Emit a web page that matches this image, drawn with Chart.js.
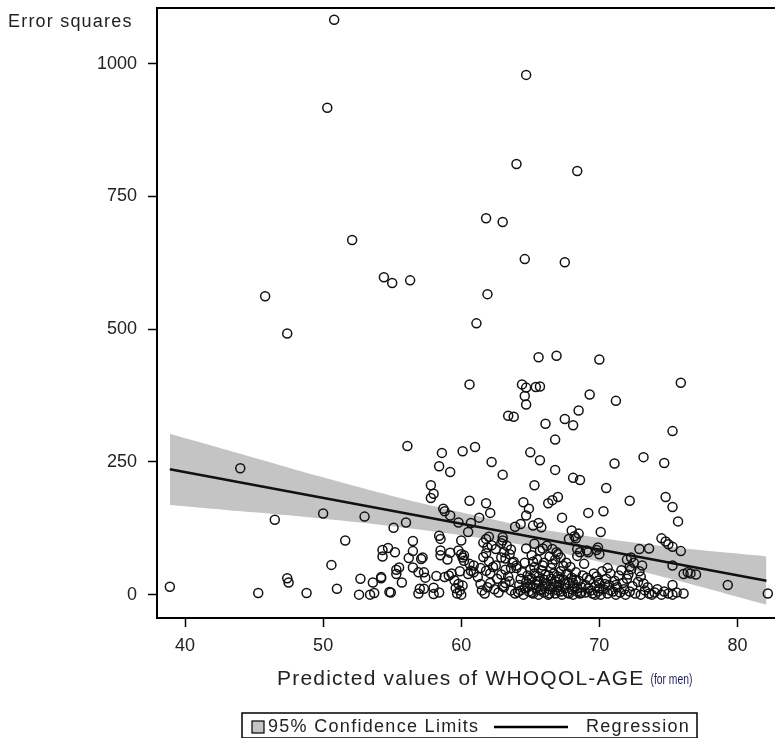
<!DOCTYPE html>
<html>
<head>
<meta charset="utf-8">
<script src="https://cdn.jsdelivr.net/npm/chart.js@4.4.1/dist/chart.umd.min.js"></script>
<style>
html, body { margin: 0; padding: 0; background: #fff; }
#wrap { width: 775px; height: 738px; position: relative; }
</style>
</head>
<body>
<div id="wrap"><canvas id="chart" width="775" height="738"></canvas></div>
<script>
// tick values
const xTicks = [40, 50, 60, 70, 80];
const yTicks = [0, 250, 500, 750, 1000];

const predX = [
    50.8, 64.7, 50.3, 64.0, 68.4, 61.8, 63.0, 52.1, 64.6, 67.5, 54.4, 55.0, 56.3, 45.8, 61.9, 47.4, 61.1,
    65.6, 66.9, 70.0, 60.6, 64.4, 64.7, 65.4, 65.7, 64.6, 64.7, 69.3, 71.2, 75.9, 63.4, 63.8, 66.1, 67.5,
    68.1, 68.5, 66.8, 75.3, 56.1, 58.6, 60.1, 61.0, 65.0, 65.7, 62.2, 58.4, 59.2, 63.0, 66.8, 71.1, 73.2,
    74.7, 68.1, 68.6, 65.3, 70.5, 72.2, 74.8, 75.3, 75.7, 44.0, 57.8, 58.0, 57.8, 60.6, 61.8, 62.1, 58.7,
    58.8, 59.2, 59.8, 61.3, 60.7, 60.5, 46.5, 50.0, 53.0, 55.1, 56.0, 51.6, 56.5, 64.5, 64.9, 64.7, 66.3,
    66.6, 67.0, 67.3, 69.2, 70.3, 70.1, 63.9, 64.3, 65.2, 65.6, 65.8, 68.0, 68.2, 68.5, 68.3, 74.5, 74.8,
    75.0, 75.3, 75.9, 72.9, 73.6, 63.0, 62.9, 61.8, 62.0, 58.4, 58.5, 60.0,
    54.3, 54.7, 55.2, 54.3, 56.5, 56.2, 57.1, 57.2, 58.5, 58.5, 59.2, 59.0, 59.8, 60.0, 60.1, 60.2, 60.2,
    60.6, 60.9, 61.6, 61.9, 62.2, 61.8, 62.5, 62.9, 62.0, 62.3, 61.6, 63.1, 63.5, 63.0, 63.3, 63.6, 63.2,
    63.8, 64.0, 64.7, 65.1, 65.3, 65.7, 65.9, 66.2, 66.6, 66.9, 66.4, 65.5, 65.2, 67.0, 66.8, 67.2, 67.8,
    68.4, 68.4, 68.6, 69.1, 69.2, 69.9, 70.0, 69.8, 72.3, 72.0, 72.5, 73.1, 72.2, 75.3, 76.1, 76.6, 77.0,
    76.4, 79.3, 82.2, 75.3, 76.1, 50.6, 47.4, 47.5, 55.3, 55.3, 55.5, 52.7, 53.6, 54.2, 54.2, 55.7, 56.5,
    56.9, 57.3, 57.4, 57.0, 57.3, 56.9, 58.0, 58.4, 58.0, 58.2, 58.8, 59.1, 38.9, 45.3, 48.8, 51.0, 52.6,
    53.4, 53.7, 54.8, 54.9, 59.5, 59.6, 59.7, 59.8, 59.9, 60.0, 60.1, 59.3, 59.9, 60.5, 60.7, 60.9, 61.2,
    61.4, 61.5, 61.7, 61.9, 61.4, 61.8, 62.1, 62.5, 62.1, 62.4, 62.7, 63.0, 63.2, 62.6, 62.9, 63.2, 63.1,
    63.4, 63.6, 63.5, 63.6, 63.7, 64.0, 63.9,
    64.1, 64.2, 64.3, 64.4, 64.5, 64.6, 64.7, 64.8, 64.9, 65.0, 65.0, 65.1, 65.2, 65.3, 65.4, 65.5, 65.6,
    65.6, 65.7, 65.8, 65.9, 66.0, 66.0, 66.1, 66.2, 66.3, 66.4, 66.5, 66.5, 66.6, 66.7, 66.8, 66.9, 67.0,
    67.0, 67.1, 67.2, 67.3, 67.4, 67.5, 67.6, 67.7, 67.8, 67.9, 68.0, 68.0, 68.1, 68.2, 68.3, 68.4, 68.5,
    68.6, 68.7, 68.8, 66.6, 67.6, 65.9, 64.6,
    69.0, 69.2, 69.3, 69.5, 69.6, 69.7, 69.8, 69.9, 70.0, 70.1, 70.2, 70.3, 70.5, 70.6, 70.7, 70.8, 71.0,
    71.1, 71.2, 71.3, 71.4, 71.5, 71.6, 71.7, 71.8, 71.9, 72.0, 72.1, 72.2, 72.4, 72.6, 72.8, 72.9, 73.0,
    73.2, 73.3, 73.5, 73.6, 73.8, 74.0, 74.2, 74.5, 74.7, 75.0, 75.3, 75.6, 72.3, 73.0,
    64.3, 64.8, 65.1, 65.4, 65.8, 66.1, 66.4, 66.7, 67.0, 67.2, 67.5, 67.8, 68.1, 68.4, 68.7, 69.0, 69.4,
    69.7, 70.0, 70.4, 70.8, 71.2, 64.9, 65.6, 66.3, 67.1, 67.7, 68.3, 69.1, 69.9, 65.3, 66.0, 67.4, 68.9,
    70.6
];
const errSq = [
    1083, 979, 917, 811, 798, 709, 702, 668, 632, 626, 598, 587, 592, 562, 566, 492, 511,
    447, 450, 443, 396, 396, 390, 391, 392, 374, 358, 377, 365, 399, 337, 335, 322, 331,
    319, 347, 292, 308, 280, 267, 270, 278, 268, 253, 250, 242, 231, 226, 235, 247, 259,
    248, 220, 216, 206, 201, 177, 184, 165, 138, 238, 206, 190, 182, 177, 172, 154, 162,
    157, 149, 136, 145, 135, 118, 141, 153, 147, 126, 136, 102, 101, 174, 162, 149, 172,
    178, 184, 145, 154, 157, 118, 128, 133, 130, 135, 127, 121, 110, 115, 106, 106, 100,
    95, 90, 82, 86, 87, 108, 97, 105, 109, 111, 105, 102,
    84, 88, 80, 72, 82, 69, 67, 70, 83, 74, 79, 66, 83, 76, 70, 74, 64,
    58, 55, 98, 89, 93, 78, 86, 70, 63, 52, 71, 80, 76, 102, 92, 85, 68,
    62, 55, 87, 74, 96, 83, 87, 92, 86, 80, 72, 66, 62, 76, 66, 70, 105,
    86, 73, 80, 83, 80, 89, 76, 84, 70, 66, 60, 55, 52, 55, 39, 40, 38,
    42, 18, 2, 18, 2, 56, 31, 23, 47, 39, 51, 30, 23, 31, 33, 23, 51,
    42, 42, 32, 11, 11, 2, 1, 4, 13, 35, 33, 36, 15, 3, 3, 11, 0,
    0, 3, 5, 4, 27, 12, 2, 20, 8, 0, 17, 40, 44, 39, 45, 42, 33,
    20, 8, 2, 14, 50, 45, 40, 55, 22, 10, 4, 16, 22, 30, 38, 47, 14,
    34, 50, 25, 8, 60, 50, 2,
    5, 18, 30, 42, 0, 12, 24, 36, 6, 48, 18, 30, 2, 40, 12, 24, 0,
    34, 8, 46, 16, 28, 4, 38, 20, 0, 10, 30, 50, 14, 40, 2, 24, 8,
    34, 18, 44, 0, 28, 12, 38, 4, 22, 52, 10, 32, 0, 16, 42, 6, 26,
    2, 14, 36, 58, 60, 55, 60,
    4, 12, 28, 2, 40, 16, 34, 6, 22, 0, 44, 10, 30, 2, 18, 40, 6,
    26, 0, 14, 36, 4, 46, 22, 10, 0, 30, 38, 6, 16, 2, 24, 44, 0,
    21, 8, 14, 2, 0, 4, 10, 0, 6, 2, 0, 4, 48, 34,
    8, 14, 4, 20, 10, 16, 2, 20, 14, 6, 20, 2, 22, 12, 4, 18, 8,
    0, 12, 20, 8, 18, 28, 26, 36, 30, 40, 28, 32, 26, 52, 60, 54, 58,
    50
];

// fitted regression line (two ends)
const fitX = [38.9, 82.1];
const fitY = [236, 26];

// 95% confidence band, read at a few x positions
const bandX = [38.9, 45, 50, 55, 60, 65, 70, 75, 82.1];
const bandUpper = [303, 258, 221, 186, 155, 127, 107, 90, 72];
const bandLower = [169, 155, 143, 129, 112, 91, 62, 31, -19];

const FONT = '"Liberation Sans", Arial, sans-serif';
const pts = (xs, ys) => xs.map((x, i) => ({ x: x, y: ys[i] }));

const extras = {
    id: 'extras',
    afterDraw(chart) {
        const ctx = chart.ctx;
        const a = chart.chartArea;
        ctx.save();
        // top frame line
        ctx.strokeStyle = '#000';
        ctx.lineWidth = 2;
        ctx.beginPath();
        ctx.moveTo(a.left - 1, a.top);
        ctx.lineTo(a.right, a.top);
        ctx.stroke();

        ctx.fillStyle = '#222';
        ctx.textBaseline = 'middle';
        ctx.textAlign = 'left';
        ctx.letterSpacing = '1.2px';
        ctx.font = '18px ' + FONT;
        ctx.fillText('Error squares', 8, 22);

        // x axis title
        ctx.font = '21px ' + FONT;
        const main = 'Predicted values of WHOQOL-AGE';
        ctx.fillText(main, 277, 679);
        const w = ctx.measureText(main).width;
        // the sub-label is set narrow in the original
        ctx.letterSpacing = '0px';
        ctx.font = '14px ' + FONT;
        ctx.fillStyle = '#1c1c5a';
        ctx.save();
        ctx.translate(277 + w + 6, 680);
        ctx.scale(0.74, 1);
        ctx.fillText('(for men)', 0, 0);
        ctx.restore();

        // legend
        ctx.strokeStyle = '#000';
        ctx.lineWidth = 1.5;
        ctx.strokeRect(242, 713, 455, 25);
        ctx.fillStyle = '#c4c4c4';
        ctx.fillRect(252, 721, 12, 12);
        ctx.lineWidth = 1.2;
        ctx.strokeRect(252, 721, 12, 12);
        ctx.fillStyle = '#222';
        ctx.letterSpacing = '1.3px';
        ctx.font = '18px ' + FONT;
        ctx.fillText('95% Confidence Limits', 268, 727);
        ctx.lineWidth = 2.5;
        ctx.beginPath();
        ctx.moveTo(494, 727);
        ctx.lineTo(568, 727);
        ctx.stroke();
        ctx.fillText('Regression', 586, 727);
        ctx.restore();
    }
};

new Chart(document.getElementById('chart'), {
    type: 'scatter',
    data: {
        datasets: [
            {
                type: 'line',
                label: '95% upper',
                data: pts(bandX, bandUpper),
                borderWidth: 0,
                pointRadius: 0,
                backgroundColor: '#c4c4c4',
                fill: '+1',
                tension: 0.4,
                order: 4,
            },
            {
                type: 'line',
                label: '95% lower',
                data: pts(bandX, bandLower),
                borderWidth: 0,
                pointRadius: 0,
                fill: false,
                tension: 0.4,
                order: 4,
            },
            {
                label: 'Error squares',
                data: pts(predX, errSq),
                pointRadius: 4.5,
                pointBorderWidth: 1.5,
                borderColor: '#111',
                backgroundColor: 'rgba(0,0,0,0)',
                order: 2,
            },
            {
                type: 'line',
                label: 'Regression',
                data: pts(fitX, fitY),
                borderColor: '#111',
                borderWidth: 2.5,
                pointRadius: 0,
                fill: false,
                order: 1,
            }
        ]
    },
    options: {
        responsive: false,
        animation: false,
        layout: { autoPadding: false, padding: { top: 8, left: 0, right: 0, bottom: 0 } },
        plugins: { legend: { display: false }, tooltip: { enabled: false } },
        scales: {
            x: {
                type: 'linear',
                min: 37.97,
                max: 82.72,
                afterBuildTicks: s => { s.ticks = xTicks.map(v => ({ value: v })); },
                afterFit: s => { s.height = 120; s.paddingLeft = 0; s.paddingRight = 0; },
                border: { display: true, color: '#000', width: 2 },
                grid: { drawOnChartArea: false, drawTicks: true, tickLength: 9, tickColor: '#000', tickWidth: 1.5 },
                ticks: { color: '#222', font: { family: FONT, size: 18 }, padding: 8, maxRotation: 0, callback: v => String(v) }
            },
            y: {
                type: 'linear',
                min: -44,
                max: 1105,
                afterBuildTicks: s => { s.ticks = yTicks.map(v => ({ value: v })); },
                afterFit: s => { s.width = 157; s.paddingTop = 0; s.paddingBottom = 0; },
                border: { display: true, color: '#000', width: 2 },
                grid: { drawOnChartArea: false, drawTicks: true, tickLength: 9, tickColor: '#000', tickWidth: 1.5 },
                ticks: { color: '#222', font: { family: FONT, size: 18 }, padding: 11, callback: v => String(v) }
            }
        }
    },
    plugins: [extras]
});
</script>
</body>
</html>
